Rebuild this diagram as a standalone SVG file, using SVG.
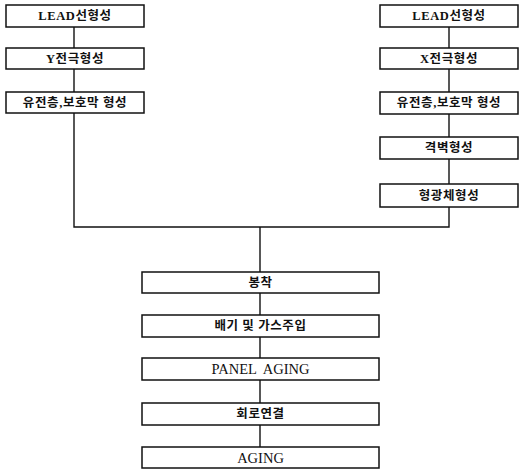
<svg xmlns="http://www.w3.org/2000/svg" width="520" height="470" viewBox="0 0 520 470">
<style>
rect{fill:#fff;stroke:#111;stroke-width:1.5}
text{font-family:"Liberation Serif","Noto Sans CJK KR",serif;font-size:12.5px;font-weight:bold;fill:#111;text-anchor:middle;dominant-baseline:central;letter-spacing:0.6px}
text.en{font-weight:normal;font-size:14.5px;letter-spacing:0}
.c line,.c polyline{stroke:#111;stroke-width:1.4;fill:none}
</style>
<rect width="520" height="470" style="fill:#fff;stroke:none"/>
<g class="c" id="connectors">
<line x1="74" y1="27" x2="74" y2="48"/>
<line x1="74" y1="69" x2="74" y2="92"/>
<line x1="449" y1="27" x2="449" y2="48"/>
<line x1="449" y1="69" x2="449" y2="92"/>
<line x1="449" y1="114" x2="449" y2="137"/>
<line x1="449" y1="159" x2="449" y2="184"/>
<polyline points="74,113 74,227 449,227 449,207"/>
<line x1="260" y1="227" x2="260" y2="272"/>
<line x1="260" y1="293" x2="260" y2="315"/>
<line x1="260" y1="337" x2="260" y2="358"/>
<line x1="260" y1="380" x2="260" y2="403"/>
<line x1="260" y1="425" x2="260" y2="447"/>
</g>
<g id="n1"><rect x="6" y="5" width="138" height="22"/><text x="75" y="16">LEAD선형성</text></g>
<g id="n2"><rect x="6" y="48" width="138" height="21"/><text x="75" y="58.5">Y전극형성</text></g>
<g id="n3"><rect x="6" y="92" width="138" height="21"/><text x="75" y="102.5">유전층,보호막 형성</text></g>
<g id="n4"><rect x="380" y="5" width="138" height="22"/><text x="449" y="16">LEAD선형성</text></g>
<g id="n5"><rect x="380" y="48" width="138" height="21"/><text x="449" y="58.5">X전극형성</text></g>
<g id="n6"><rect x="380" y="92" width="138" height="22"/><text x="449" y="103">유전층,보호막 형성</text></g>
<g id="n7"><rect x="380" y="137" width="138" height="22"/><text x="449" y="148">격벽형성</text></g>
<g id="n8"><rect x="380" y="184" width="138" height="23"/><text x="449" y="195.5">형광체형성</text></g>
<g id="n9"><rect x="142" y="272" width="237" height="21"/><text x="260.5" y="282.5">봉착</text></g>
<g id="n10"><rect x="142" y="315" width="237" height="22"/><text x="260.5" y="326">배기 및 가스주입</text></g>
<g id="n11"><rect x="142" y="358" width="237" height="22"/><text class="en" x="260.5" y="369" xml:space="preserve">PANEL  AGING</text></g>
<g id="n12"><rect x="142" y="403" width="237" height="22"/><text x="260.5" y="414">회로연결</text></g>
<g id="n13"><rect x="142" y="447" width="237" height="21"/><text class="en" x="260.5" y="457.5">AGING</text></g>
</svg>
